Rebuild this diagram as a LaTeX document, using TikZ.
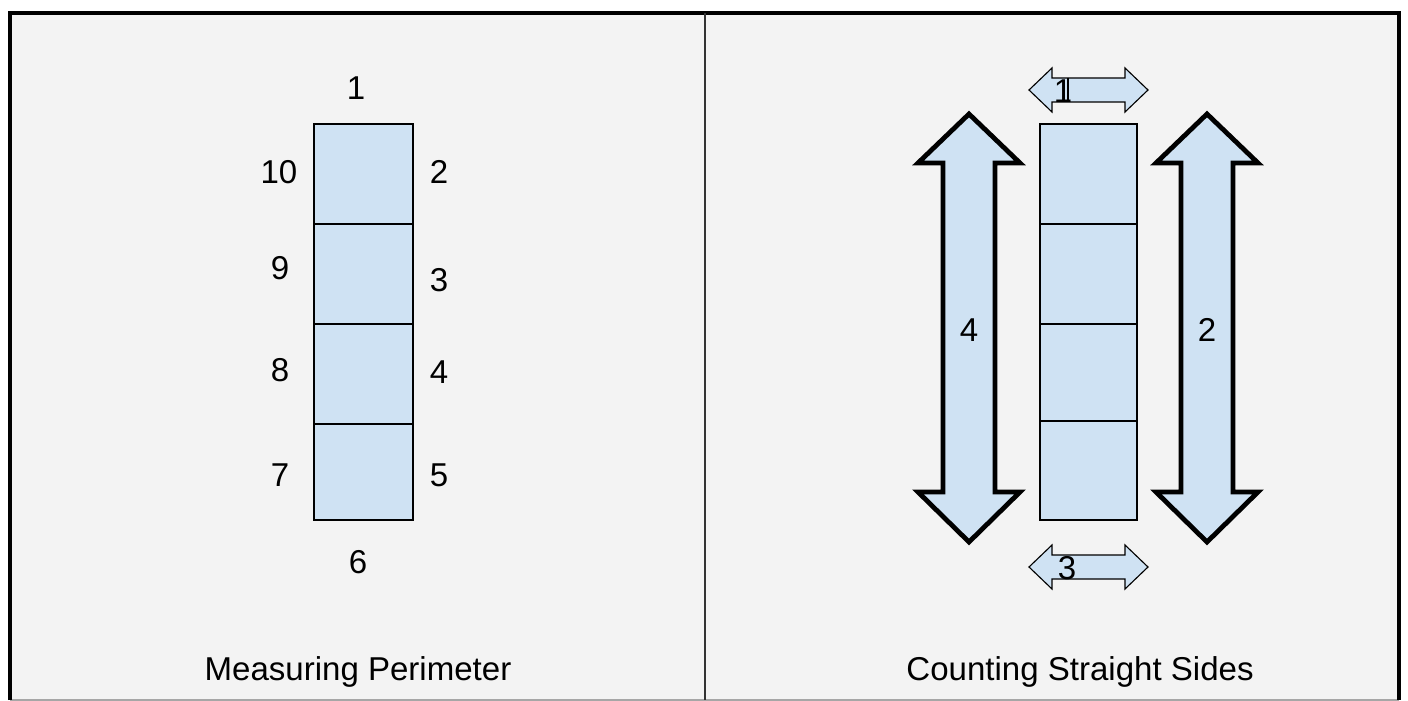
\documentclass[tikz,border=0pt]{standalone}
\usepackage{fontspec}
\setmainfont{Liberation Sans}
\usepackage{tikz}
\usetikzlibrary{positioning}
\definecolor{panelgray}{HTML}{F3F3F3}
\definecolor{cellblue}{HTML}{CFE2F3}
\tikzset{
    px/.style={x=0.025cm, y=-0.025cm},
    cell box/.style={draw, fill=cellblue, line width=0.9pt},
    count label/.style={font=\fontsize{23.5}{26}\selectfont, inner sep=0pt},
    caption label/.style={font=\fontsize{23.5}{26}\selectfont, inner sep=0pt},
    big arrow/.style={draw, fill=cellblue, line width=3.4pt, line join=miter},
    small arrow/.style={draw, fill=cellblue, line width=0.8pt, line join=miter}
}

\begin{document}
\begin{tikzpicture}[px]
    \useasboundingbox (0,0) rectangle (1408,701);
    \fill[white] (0,0) rectangle (1408,701);

    % panels
    \fill[panelgray] (10,13) rectangle (1399,700);
    \draw[gray!70, line width=0.8pt] (10,700) -- (1399,700);
    \draw[line width=3pt] (10,700) -- (10,13) -- (1399,13) -- (1399,700);
    \draw[black!80, line width=1pt] (705,13) -- (705,700);

    % left panel: strip of four cells
    \foreach \top/\bot [count=\i] in {124/224, 224/324, 324/424, 424/520}
        \node[cell box, minimum width=99*0.025cm, minimum height={(\bot-\top)*0.025cm}, inner sep=0pt]
            (lcell\i) at (363.5,{(\top+\bot)/2}) {};

    \foreach \x/\y/\num in {356/88/1, 439/172/2, 439/280/3, 439/372/4, 439/475/5,
                            358/562/6, 280/475/7, 280/370/8, 280/268/9, 279/172/10}
        \node[count label] (edge\num) at (\x,\y) {\num};

    \node[caption label] (leftcaption) at (358,672) {Measuring Perimeter};

    % right panel: strip of four cells
    \foreach \top/\bot [count=\i] in {124/224, 224/324, 324/421, 421/520}
        \node[cell box, minimum width=97*0.025cm, minimum height={(\bot-\top)*0.025cm}, inner sep=0pt]
            (rcell\i) at (1088.5,{(\top+\bot)/2}) {};

    % long sides
    \foreach \cx/\num in {969/4, 1207/2} {
        \draw[big arrow] (\cx,114) -- ++(51,49) -- ++(-25,0) -- ++(0,329) -- ++(25,0)
            -- (\cx,542) -- ++(-51,-50) -- ++(25,0) -- ++(0,-329) -- ++(-25,0) -- cycle;
        \node[count label] (side\num) at (\cx,330) {\num};
    }

    % short sides
    \foreach \cy/\num/\lx in {90/1/1063, 567/3/1067} {
        \draw[small arrow] (1029,\cy) -- ++(23,-22) -- ++(0,10) -- ++(73,0) -- ++(0,-10)
            -- (1148,\cy) -- ++(-23,22) -- ++(0,-10) -- ++(-73,0) -- ++(0,10) -- cycle;
        \node[count label] (side\num) at (\lx,{\cy+1}) {\num};
    }
    \draw[line width=0.8pt] (1068,78) -- (1068,102);

    \node[caption label] (rightcaption) at (1080,672) {Counting Straight Sides};
\end{tikzpicture}
\end{document}
